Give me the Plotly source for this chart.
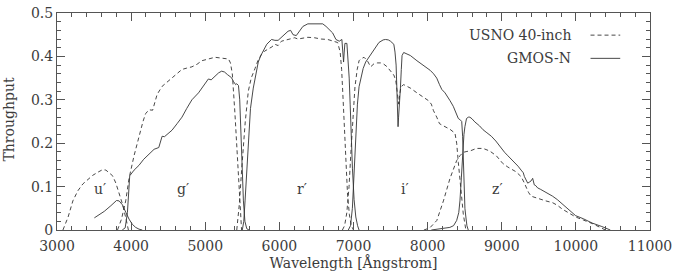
import plotly.graph_objects as go

# ---------------- data ----------------
filters = ["u′", "g′", "r′", "i′", "z′"]
label_wl = [3580, 4700, 6300, 7690, 8940]
label_t = [0.095, 0.095, 0.095, 0.095, 0.095]

x_ticks = [3000, 4000, 5000, 6000, 7000, 8000, 9000, 10000, 11000]
y_ticks = [0, 0.1, 0.2, 0.3, 0.4, 0.5]
y_ticktext = ["0", "0.1", "0.2", "0.3", "0.4", "0.5"]

# USNO 40-inch (dashed)
usno_u_wl = [3080, 3150, 3214, 3280, 3348, 3420, 3482, 3550, 3615, 3660, 3700, 3750, 3794, 3850, 3883, 3936, 3963]
usno_u_t = [0.0, 0.03, 0.067, 0.09, 0.106, 0.118, 0.126, 0.133, 0.139, 0.138, 0.133, 0.125, 0.108, 0.08, 0.06, 0.022, 0.0]

usno_g_wl = [3816, 3870, 3927, 3972, 4039, 4106, 4160, 4195, 4240, 4290, 4351, 4418, 4480, 4552, 4620, 4686,
             4750, 4820, 4890, 4953, 5042, 5131, 5221, 5290, 5314, 5340, 5365, 5400, 5430, 5450, 5470, 5490]
usno_g_t = [0.0, 0.025, 0.067, 0.119, 0.171, 0.216, 0.25, 0.268, 0.277, 0.276, 0.3125, 0.331, 0.34, 0.35, 0.362, 0.37,
            0.373, 0.376, 0.382, 0.39, 0.394, 0.398, 0.396, 0.394, 0.394, 0.385, 0.36, 0.27, 0.17, 0.1, 0.04, 0.0]

usno_r_wl = [5425, 5460, 5492, 5540, 5581, 5620, 5671, 5710, 5760, 5800, 5849, 5900, 5938, 5983, 6028, 6117,
             6160, 6206, 6250, 6295, 6384, 6473, 6563, 6652, 6741, 6786, 6820, 6840, 6860, 6880, 6900, 6920, 6945, 6970, 7000]
usno_r_t = [0.0, 0.06, 0.141, 0.25, 0.32, 0.35, 0.372, 0.39, 0.405, 0.412, 0.417, 0.422, 0.428, 0.425, 0.435, 0.439,
            0.44, 0.443, 0.44, 0.441, 0.444, 0.443, 0.44, 0.439, 0.435, 0.432, 0.41, 0.37, 0.3, 0.22, 0.14, 0.08, 0.035, 0.01, 0.0]

usno_i_wl = [6850, 6880, 6910, 6940, 6965, 6990, 7020, 7050, 7075, 7098, 7142, 7187, 7231, 7276, 7320, 7365,
             7410, 7454, 7500, 7544, 7570, 7588, 7600, 7610, 7622, 7640, 7677, 7767, 7856, 7945, 8012, 8050,
             8079, 8123, 8160, 8213, 8302, 8369, 8392, 8414, 8445, 8481, 8516]
usno_i_t = [0.0, 0.01, 0.04, 0.1, 0.18, 0.26, 0.33, 0.37, 0.39, 0.394, 0.398, 0.39, 0.376, 0.383, 0.385, 0.385,
            0.382, 0.376, 0.367, 0.357, 0.345, 0.32, 0.3, 0.29, 0.31, 0.33, 0.335, 0.327, 0.316, 0.305, 0.298, 0.29,
            0.275, 0.26, 0.245, 0.24, 0.232, 0.223, 0.2, 0.156, 0.097, 0.037, 0.0]

usno_z_wl = [7950, 8030, 8124, 8213, 8302, 8392, 8440, 8481, 8530, 8570, 8659, 8748, 8838, 8927, 9016, 9083,
             9194, 9261, 9300, 9328, 9360, 9395, 9462, 9595, 9685, 9750, 9818, 9900, 9997, 10100, 10220, 10398]
usno_z_t = [0.0, 0.005, 0.022, 0.067, 0.119, 0.16, 0.172, 0.179, 0.181, 0.182, 0.188, 0.188, 0.182, 0.171, 0.153, 0.145,
            0.134, 0.123, 0.11, 0.097, 0.087, 0.078, 0.074, 0.067, 0.063, 0.057, 0.048, 0.04, 0.03, 0.023, 0.015, 0.0]

# GMOS-N (solid)
gmos_u_wl = [3504, 3638, 3727, 3803, 3838, 3883, 3930, 3972, 4017, 4061, 4106, 4150]
gmos_u_t = [0.028, 0.043, 0.056, 0.068, 0.067, 0.058, 0.04, 0.025, 0.013, 0.006, 0.002, 0.0]

gmos_g_wl = [3880, 3920, 3950, 3965, 3981, 4040, 4106, 4170, 4240, 4310, 4373, 4400, 4418, 4450, 4500, 4552,
             4620, 4686, 4750, 4820, 4909, 4980, 5042, 5080, 5131, 5180, 5221, 5260, 5300, 5354, 5381, 5410,
             5425, 5448, 5465, 5483, 5500, 5515, 5535, 5560, 5590]
gmos_g_t = [0.0, 0.005, 0.04, 0.09, 0.125, 0.138, 0.149, 0.163, 0.175, 0.186, 0.19, 0.205, 0.216, 0.215, 0.222, 0.23,
            0.245, 0.26, 0.28, 0.3, 0.316, 0.332, 0.348, 0.346, 0.355, 0.362, 0.366, 0.364, 0.358, 0.351, 0.342, 0.335,
            0.337, 0.333, 0.3, 0.216, 0.13, 0.067, 0.02, 0.003, 0.0]

gmos_r_wl = [5500, 5520, 5537, 5560, 5581, 5610, 5648, 5680, 5715, 5750, 5782, 5830, 5894, 5940, 5983, 6050,
             6117, 6152, 6184, 6228, 6273, 6317, 6384, 6473, 6585, 6630, 6675, 6719, 6763, 6808, 6843, 6855,
             6866, 6875, 6884, 6911, 6929, 6942, 6955, 6970, 6986, 7008, 7031, 7055, 7075]
gmos_r_t = [0.0, 0.02, 0.067, 0.14, 0.216, 0.28, 0.327, 0.36, 0.387, 0.402, 0.413, 0.428, 0.439, 0.437, 0.437, 0.448,
            0.458, 0.46, 0.45, 0.448, 0.458, 0.469, 0.475, 0.475, 0.475, 0.469, 0.462, 0.454, 0.439, 0.435, 0.439, 0.42,
            0.387, 0.41, 0.43, 0.43, 0.394, 0.35, 0.29, 0.21, 0.141, 0.07, 0.03, 0.01, 0.0]

gmos_i_wl = [6930, 6960, 6985, 7008, 7030, 7053, 7075, 7098, 7130, 7164, 7231, 7276, 7343, 7400, 7432, 7470,
             7499, 7544, 7560, 7575, 7588, 7595, 7601, 7608, 7615, 7633, 7645, 7655, 7677, 7720, 7767, 7856,
             7945, 8034, 8080, 8123, 8160, 8191, 8235, 8257, 8302, 8346, 8369, 8414, 8445, 8460, 8472, 8490,
             8503, 8516, 8530, 8548]
gmos_i_t = [0.0, 0.01, 0.05, 0.141, 0.23, 0.29, 0.33, 0.35, 0.372, 0.387, 0.405, 0.417, 0.432, 0.438, 0.439, 0.438,
            0.435, 0.428, 0.41, 0.38, 0.327, 0.28, 0.238, 0.26, 0.29, 0.327, 0.37, 0.402, 0.409, 0.406, 0.402, 0.39,
            0.379, 0.368, 0.36, 0.35, 0.335, 0.324, 0.316, 0.309, 0.298, 0.285, 0.275, 0.257, 0.253, 0.25, 0.216, 0.104,
            0.05, 0.03, 0.01, 0.0]

gmos_z_wl = [8050, 8200, 8300, 8350, 8392, 8420, 8436, 8455, 8472, 8490, 8503, 8525, 8550, 8570, 8600, 8637,
             8700, 8748, 8800, 8860, 8920, 8971, 9038, 9083, 9130, 9172, 9220, 9261, 9290, 9306, 9330, 9350,
             9370, 9395, 9417, 9439, 9460, 9484, 9520, 9551, 9620, 9685, 9750, 9818, 9900, 9997, 10100, 10220,
             10350, 10465]
gmos_z_t = [0.0, 0.003, 0.006, 0.01, 0.022, 0.04, 0.067, 0.12, 0.179, 0.22, 0.238, 0.257, 0.26, 0.26, 0.256, 0.249,
            0.24, 0.231, 0.224, 0.216, 0.205, 0.193, 0.179, 0.171, 0.163, 0.156, 0.147, 0.138, 0.132, 0.123, 0.115, 0.108,
            0.11, 0.113, 0.119, 0.104, 0.102, 0.097, 0.094, 0.091, 0.085, 0.078, 0.07, 0.06, 0.047, 0.033, 0.026, 0.016,
            0.008, 0.0]

usno_curves = [(usno_u_wl, usno_u_t), (usno_g_wl, usno_g_t), (usno_r_wl, usno_r_t), (usno_i_wl, usno_i_t), (usno_z_wl, usno_z_t)]
gmos_curves = [(gmos_u_wl, gmos_u_t), (gmos_g_wl, gmos_g_t), (gmos_r_wl, gmos_r_t), (gmos_i_wl, gmos_i_t), (gmos_z_wl, gmos_z_t)]

legend_names = ["USNO 40-inch", "GMOS-N"]
x_title = "Wavelength [Ångstrom]"
y_title = "Throughput"

# ---------------- figure ----------------
INK = "#333333"
TXT = "#3c3c3c"
AX = "#555555"
FONT = "DejaVu Serif"
fig = go.Figure()

for f, (wl, t) in zip(filters, usno_curves):
    fig.add_trace(go.Scatter(x=wl, y=t, mode="lines", name=legend_names[0] + " " + f,
                             line=dict(color=INK, width=0.9, dash="4px,3px"), showlegend=False))
for f, (wl, t) in zip(filters, gmos_curves):
    fig.add_trace(go.Scatter(x=wl, y=t, mode="lines", name=legend_names[1] + " " + f,
                             line=dict(color=INK, width=0.9), showlegend=False))

for f, x, y in zip(filters, label_wl, label_t):
    fig.add_annotation(x=x, y=y, text=f, showarrow=False, xref="x", yref="y",
                       font=dict(family=FONT, size=14, color=TXT))

# legend drawn as text + sample lines (text left, line right)
leg_y = [0.898, 0.791]
leg_dash = ["4px,3px", "solid"]
for name, yy, dsh in zip(legend_names, leg_y, leg_dash):
    fig.add_annotation(x=0.8696, y=yy, xref="paper", yref="paper", text=name, showarrow=False,
                       xanchor="right", yanchor="middle", font=dict(family=FONT, size=14, color=TXT))
    fig.add_shape(type="line", xref="paper", yref="paper", x0=0.8997, x1=0.9498, y0=yy, y1=yy,
                  line=dict(color=INK, width=0.9, dash=dsh))

# y-axis title placed as a rotated text at the far left
fig.add_annotation(x=-0.0803, y=0.511, xref="paper", yref="paper", text=y_title, showarrow=False,
                   textangle=-90, xanchor="center", yanchor="middle",
                   font=dict(family=FONT, size=14, color=TXT))

axis_common = dict(
    showgrid=False, zeroline=False, showline=True, linecolor=AX, linewidth=1,
    mirror="allticks", ticks="inside", ticklen=8, tickcolor=AX, tickwidth=1,
    tickfont=dict(family=FONT, size=14, color=TXT), ticklabeloverflow="allow",
)

fig.update_xaxes(range=[3000, 11000], tickmode="array", tickvals=x_ticks,
                 ticktext=[str(v) for v in x_ticks], ticklabelstandoff=3,
                 minor=dict(ticks="inside", ticklen=4, dtick=200, tick0=3000, tickcolor=AX, showgrid=False),
                 title=dict(text=x_title, font=dict(family=FONT, size=14, color=TXT), standoff=4),
                 **axis_common)
fig.update_yaxes(range=[0, 0.5], tickmode="array", tickvals=y_ticks, ticktext=y_ticktext,
                 minor=dict(ticks="inside", ticklen=4, dtick=0.02, tick0=0, tickcolor=AX, showgrid=False),
                 **axis_common)

fig.update_layout(width=677, height=275, margin=dict(l=57, r=22, t=5, b=45),
                  paper_bgcolor="white", plot_bgcolor="white", showlegend=False)

fig.write_html("out.html", config={"displayModeBar": False},
               post_script="document.body.style.margin='0px';document.body.style.overflow='hidden';")
